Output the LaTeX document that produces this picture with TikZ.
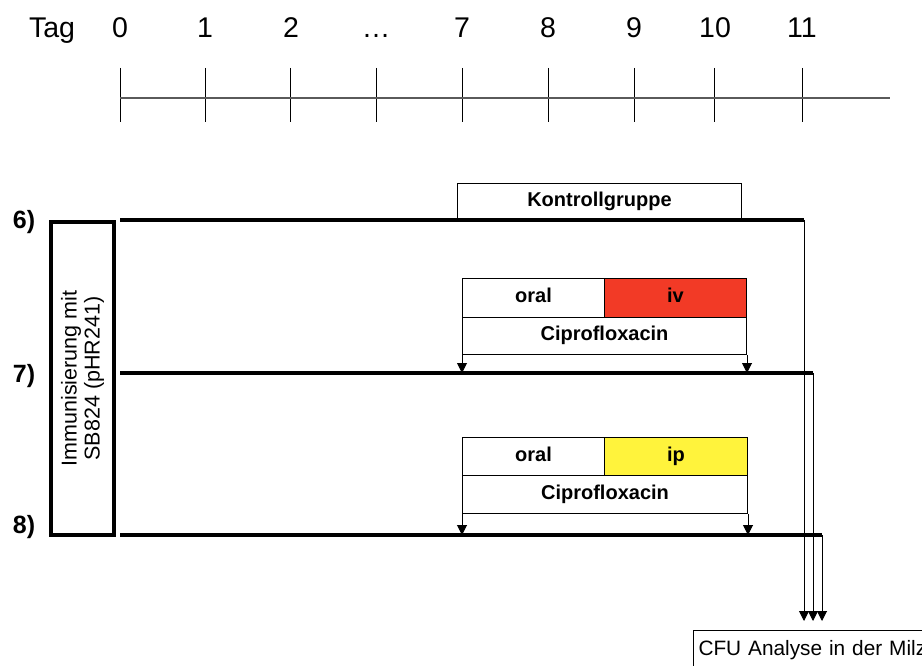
\documentclass[tikz,border=0pt]{standalone}
\usepackage{fontspec}
\setmainfont{Liberation Sans}
\usetikzlibrary{arrows.meta}
\definecolor{ivred}{RGB}{242,58,38}
\definecolor{ipyellow}{RGB}{255,243,60}
\definecolor{axisgray}{RGB}{90,90,90}
\begin{document}
\begin{tikzpicture}[x=1pt,y=-1pt,
  daylabel/.style={font=\fontsize{28.5}{30}\selectfont, anchor=base, inner sep=0pt},
  grouplabel/.style={font=\bfseries\fontsize{25}{27}\selectfont, anchor=base, inner sep=0pt},
  cell/.style={draw, line width=1pt, anchor=north west, inner sep=0pt,
    text height=14pt, text depth=4.5pt,
    font=\bfseries\fontsize{20}{22}\selectfont},
  tick/.style={line width=1pt},
  thickline/.style={line width=3.5pt},
  arr/.style={line width=1pt, -{Triangle[width=10pt,length=10pt]}},
  ]
\useasboundingbox (0,0) rectangle (922,666);
\fill[white] (0,0) rectangle (922,666);

% timeline
\node[daylabel] (tag) at (52,38) {Tag};
\foreach \n/\x/\t in {d0/120/0, d1/205/1, d2/291/2, dd/376/\dots, d7/462/7, d8/548/8, d9/634/9, d10/715/10, d11/802/11}{
  \node[daylabel] (\n) at (\x,38) {\t};
}
\foreach \x in {120,205,290,376,462,548,634,714,802}{
  \coordinate (t\x top) at (\x,68);
  \coordinate (t\x bot) at (\x,122);
  \draw[tick] (t\x top) -- (t\x bot);
}
\coordinate (axisS) at (120,98);
\coordinate (axisE) at (890,98);
\draw[axisgray, line width=2pt] (axisS) -- (axisE);

% group labels
\node[grouplabel] (g6) at (24,229) {6)};
\node[grouplabel] (g7) at (24,382) {7)};
\node[grouplabel] (g8) at (24,533) {8)};

% immunisation box
\node[rotate=90, draw, line width=3.5pt, minimum width=313pt, minimum height=63pt,
  inner sep=0pt, align=center, font=\fontsize{21.5}{23}\selectfont]
  (immun) at (82.5,378.5) {Immunisierung mit\\SB824 (pHR241)};

% group lines
\coordinate (l6s) at (120,220);
\coordinate (l6e) at (804,220);
\coordinate (l7s) at (120,373);
\coordinate (l7e) at (813,373);
\coordinate (l8s) at (120,535);
\coordinate (l8e) at (822,535);
\draw[thickline] (l6s) -- (l6e);
\draw[thickline] (l7s) -- (l7e);
\draw[thickline] (l8s) -- (l8e);

% control group box
\node[cell, minimum width=284pt, minimum height=37pt] (kontroll) at (457,183) {Kontrollgruppe};

% group 7 boxes
\node[cell, minimum width=142pt, minimum height=39pt] (oralA) at (462,278) {oral};
\node[cell, fill=ivred, minimum width=142pt, minimum height=39pt] (iv) at (604,278) {iv};
\node[cell, minimum width=284pt, minimum height=37pt] (cipA) at (462,317) {Ciprofloxacin};
\draw[arr] (cipA.south west) -- (cipA.south west |- l7s);
\draw[arr] (cipA.south east) -- (cipA.south east |- l7s);

% group 8 boxes
\node[cell, minimum width=142pt, minimum height=38pt] (oralB) at (462,437) {oral};
\node[cell, fill=ipyellow, minimum width=143pt, minimum height=38pt] (ip) at (604,437) {ip};
\node[cell, minimum width=285pt, minimum height=38pt] (cipB) at (462,475) {Ciprofloxacin};
\draw[arr] (cipB.south west) -- (cipB.south west |- l8s);
\draw[arr] (cipB.south east) -- (cipB.south east |- l8s);

% CFU analysis
\node[draw, line width=1pt, anchor=north west, inner xsep=5pt, inner ysep=10pt,
  text height=15pt, text depth=20pt, text width=250pt, align=left,
  font=\fontsize{20.8}{23}\selectfont] (cfu) at (693,630) {CFU Analyse in der Milz};
\coordinate (cfuin) at (0,621);
\draw[arr] (l6e) -- (l6e |- cfuin);
\draw[arr] (l7e) -- (l7e |- cfuin);
\draw[arr] (l8e) -- (l8e |- cfuin);
\end{tikzpicture}
\end{document}
